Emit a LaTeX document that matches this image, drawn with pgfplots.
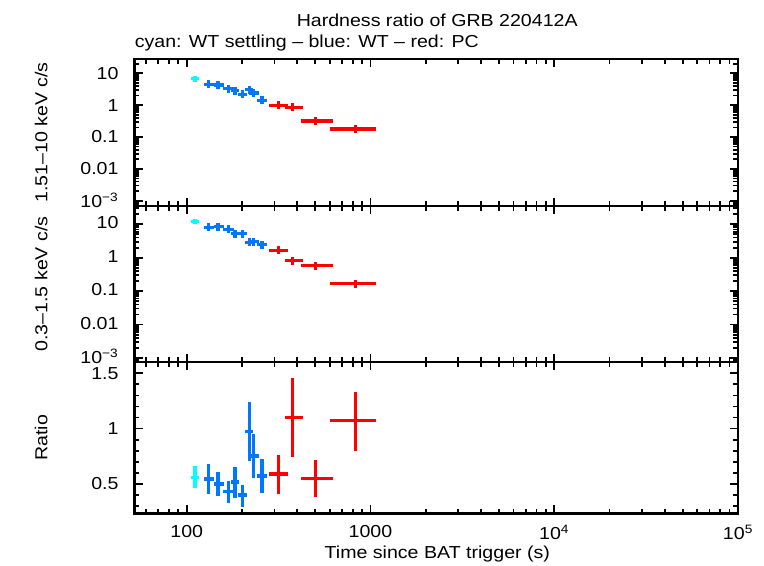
\documentclass[border=0pt]{standalone}
\usepackage{fontspec}
\setmainfont{Liberation Sans}[FakeStretch=1.13]
\usepackage{pgfplots}
\usepackage{pgfplotstable}
\pgfplotsset{compat=1.18}
\definecolor{wtset}{RGB}{0,255,255}
\definecolor{wt}{RGB}{0,119,255}
\definecolor{pc}{RGB}{255,0,0}

% columns: x, x errors, hard band (h), soft band (s), ratio (r)
\pgfplotstableread{
x   xm  xp  h     hm    hp    s     sm    sp    r     rm    rp
111 6   6   6.8   1.32  1.63  12.3  2.05  2.46  0.56  0.10  0.10
}\cyandata
\pgfplotstableread{
x   xm  xp  h     hm    hp    s     sm    sp    r     rm    rp
132 8   9   4.5   1.12  1.49  8.1   1.96  2.60  0.545 0.135 0.135
148 7   11  4.3   1.07  1.42  8.5   2.06  2.72  0.50  0.106 0.11
168 11  12  3.3   0.82  1.09  7.1   1.72  2.27  0.43  0.10  0.097
183 8   10  2.8   0.69  0.92  5.2   1.26  1.66  0.518 0.142 0.136
201 11  13  2.19  0.54  0.72  5.2   1.26  1.66  0.40  0.105 0.09
219 11  11  3.05  0.76  1.00  2.9   0.70  0.93  0.976 0.268 0.264
232 13  14  2.4   0.60  0.79  3.0   0.73  0.96  0.753 0.203 0.197
257 17  18  1.42  0.35  0.47  2.45  0.59  0.78  0.572 0.152 0.154
}\bluedata
\pgfplotstableread{
x   xm  xp  h     hm    hp    s     sm    sp    r     rm    rp
315 34  39  0.99  0.25  0.33  1.67  0.40  0.53  0.59  0.183 0.172
375 33  52  0.85  0.21  0.28  0.81  0.196 0.26  1.10  0.353 0.36
500 82  122 0.316 0.078 0.10  0.575 0.14  0.18  0.55  0.165 0.167
826 225 246 0.177 0.044 0.058 0.167 0.04  0.053 1.07  0.27  0.26
}\reddata

\pgfplotsset{
  hrpanel/.style={
    scale only axis, width=452.6pt,
    xmin=52, xmax=1e5,
    xtick={100,1000,10000,100000},
    minor xtick={60,70,80,90,200,300,400,500,600,700,800,900,2000,3000,4000,5000,6000,7000,8000,9000,20000,30000,40000,50000,60000,70000,80000,90000},
    axis line style={line width=1.6pt},
    tick style={line width=1.3pt, black},
    major tick length=6pt, minor tick length=3.5pt,
    tick align=inside,
    /pgf/number format/assume math mode=true,
    yticklabel style={xshift=-7.5pt},
    xticklabel style={yshift=-4.3pt},
  },
  hrser/.style={draw=none, mark=none,
    error bars/x dir=both, error bars/x explicit,
    error bars/y dir=both, error bars/y explicit,
    error bars/error mark=none,
    error bars/error bar style={draw=#1, line width=2.4pt, line cap=butt}},
}

\begin{document}
\fontsize{13}{15}\selectfont
\begin{tikzpicture}
\useasboundingbox (0,0) rectangle (573pt,424.5pt);

% top panel: 1.51-10 keV
\begin{loglogaxis}[hrpanel, at={(100.9pt,270pt)}, anchor=south west, height=110.25pt,
  xticklabels={},
  ymin=6.82e-4, ymax=28.1,
  ytick={0.001,0.01,0.1,1,10},
  yticklabels={10\textsuperscript{−3},0.01,0.1,1,10},
  minor ytick={7e-4,8e-4,9e-4,2e-3,3e-3,4e-3,5e-3,6e-3,7e-3,8e-3,9e-3,0.02,0.03,0.04,0.05,0.06,0.07,0.08,0.09,0.2,0.3,0.4,0.5,0.6,0.7,0.8,0.9,2,3,4,5,6,7,8,9,20}]
\addplot[hrser=wtset] table[x=x, y=h, x error minus=xm, x error plus=xp, y error minus=hm, y error plus=hp] {\cyandata};
\addplot[hrser=wt] table[x=x, y=h, x error minus=xm, x error plus=xp, y error minus=hm, y error plus=hp] {\bluedata};
\addplot[hrser=pc] table[x=x, y=h, x error minus=xm, x error plus=xp, y error minus=hm, y error plus=hp] {\reddata};
\end{loglogaxis}

% middle panel: 0.3-1.5 keV
\begin{loglogaxis}[hrpanel, at={(100.9pt,153pt)}, anchor=south west, height=117pt,
  xticklabels={},
  ymin=7.6e-4, ymax=35.3,
  ytick={0.001,0.01,0.1,1,10},
  yticklabels={10\textsuperscript{−3},0.01,0.1,1,10},
  yticklabel style={yshift=1pt},
  minor ytick={8e-4,9e-4,2e-3,3e-3,4e-3,5e-3,6e-3,7e-3,8e-3,9e-3,0.02,0.03,0.04,0.05,0.06,0.07,0.08,0.09,0.2,0.3,0.4,0.5,0.6,0.7,0.8,0.9,2,3,4,5,6,7,8,9,20,30}]
\addplot[hrser=wtset] table[x=x, y=s, x error minus=xm, x error plus=xp, y error minus=sm, y error plus=sp] {\cyandata};
\addplot[hrser=wt] table[x=x, y=s, x error minus=xm, x error plus=xp, y error minus=sm, y error plus=sp] {\bluedata};
\addplot[hrser=pc] table[x=x, y=s, x error minus=xm, x error plus=xp, y error minus=sm, y error plus=sp] {\reddata};
\end{loglogaxis}

% bottom panel: ratio
\begin{semilogxaxis}[hrpanel, at={(100.9pt,39.4pt)}, anchor=south west, height=113.6pt,
  ymin=0.2335, ymax=1.602,
  ytick={0.5,1,1.5}, yticklabels={0.5,1,1.5},
  minor ytick={0.3,0.4,0.6,0.7,0.8,0.9,1.1,1.2,1.3,1.4},
  xticklabels={100,1000,10\textsuperscript{4},10\textsuperscript{5}}]
\addplot[hrser=wtset] table[x=x, y=r, x error minus=xm, x error plus=xp, y error minus=rm, y error plus=rp] {\cyandata};
\addplot[hrser=wt] table[x=x, y=r, x error minus=xm, x error plus=xp, y error minus=rm, y error plus=rp] {\bluedata};
\addplot[hrser=pc] table[x=x, y=r, x error minus=xm, x error plus=xp, y error minus=rm, y error plus=rp] {\reddata};
\end{semilogxaxis}

\node[anchor=base] at (327.9pt,404.5pt) {Hardness ratio of GRB 220412A};
\node[anchor=base west, inner sep=0pt] at (100.9pt,388.5pt) {cyan: WT settling – blue: WT – red: PC};
\node[anchor=base] at (328pt,5.5pt) {Time since BAT trigger (s)};
\node[rotate=90, anchor=base] at (35.6pt,325.1pt) {1.51–10 keV c/s};
\node[rotate=90, anchor=base] at (35.6pt,211.5pt) {0.3–1.5 keV c/s};
\node[rotate=90, anchor=base] at (35.6pt,96.2pt) {Ratio};
\end{tikzpicture}
\end{document}
